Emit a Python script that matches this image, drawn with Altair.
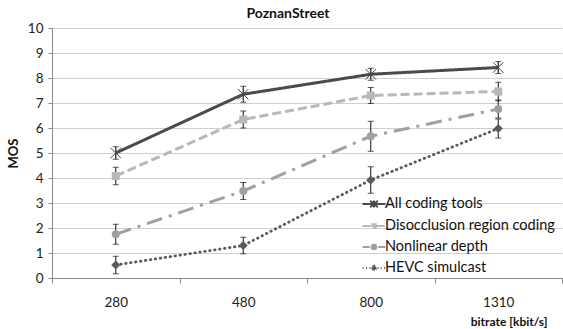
import altair as alt
import pandas as pd

# Bitrate points (kbit/s) on the horizontal axis
bitrates = ["280", "480", "800", "1310"]

series_names = [
    "All coding tools",
    "Disocclusion region coding",
    "Nonlinear depth",
    "HEVC simulcast",
]

# Mean opinion scores and their confidence half-widths
all_tools = [5.0, 7.35, 8.15, 8.42]
all_tools_ci = [0.25, 0.32, 0.24, 0.24]
disocclusion = [4.08, 6.34, 7.30, 7.46]
disocclusion_ci = [0.35, 0.34, 0.32, 0.37]
nonlinear = [1.75, 3.48, 5.67, 6.76]
nonlinear_ci = [0.40, 0.34, 0.60, 0.36]
hevc = [0.52, 1.30, 3.92, 5.98]
hevc_ci = [0.35, 0.33, 0.53, 0.38]

colors = ["#4a4a4a", "#b8b8b8", "#a0a0a0", "#5a5a5a"]

rows = []
for name, vals, cis in zip(
    series_names,
    [all_tools, disocclusion, nonlinear, hevc],
    [all_tools_ci, disocclusion_ci, nonlinear_ci, hevc_ci],
):
    for b, v, c in zip(bitrates, vals, cis):
        rows.append({"series": name, "bitrate": b, "MOS": v, "lo": v - c, "hi": v + c})
df = pd.DataFrame(rows)

FONT = "Lato"
color_scale = alt.Scale(domain=series_names, range=colors)

x_scale = alt.Scale(domain=bitrates, paddingInner=0, paddingOuter=0)
x_axis = alt.Axis(
    title="bitrate [kbit/s]",
    labelAngle=0,
    tickBand="extent",
    tickSize=5,
    labelPadding=12,
    labelFontSize=13.5,
    labelColor="#222",
    domainColor="#888",
    tickColor="#888",
    titleFontSize=12,
    titleFontWeight="bold",
    titleColor="#111",
    titleAlign="right",
    titleAnchor="end",
    titleX=495,
    titleY=47,
    titleBaseline="alphabetic",
)
y_scale = alt.Scale(domain=[0, 10], nice=False)
y_axis = alt.Axis(
    title="MOS",
    values=list(range(11)),
    tickSize=4,
    labelPadding=5,
    labelFontSize=13.5,
    labelColor="#222",
    domainColor="#888",
    tickColor="#888",
    gridColor="#cfcfcf",
    gridWidth=1.2,
    titleFontSize=13,
    titleFontWeight="bold",
    titleColor="#111",
    titleX=-32,
    titleY=125,
    titleAlign="center",
    titleBaseline="bottom",
)


def X():
    return alt.X("bitrate:N", sort=bitrates, scale=x_scale, axis=x_axis)


def Y(field="MOS"):
    return alt.Y(f"{field}:Q", scale=y_scale, axis=y_axis)


def C():
    return alt.Color("series:N", scale=color_scale)


base = alt.Chart(df)

# Solid / dashed / dash-dot lines
lines = base.transform_filter(
    alt.FieldOneOfPredicate(field="series", oneOf=series_names[:3])
).mark_line(strokeWidth=3).encode(
    x=X(),
    y=Y(),
    color=C(),
    strokeDash=alt.StrokeDash(
        "series:N",
        scale=alt.Scale(domain=series_names, range=[[1, 0], [9, 4], [16, 7, 3, 7], [1, 4]]),
        legend=None,
    ),
)

# Dotted line with round caps
dotted = base.transform_filter(
    alt.datum.series == series_names[3]
).mark_line(strokeWidth=2.8, strokeDash=[0.5, 4.5], strokeCap="round").encode(
    x=X(), y=Y(), color=C()
)

# Error bars with caps
err = base.mark_rule(color="#111", strokeWidth=1).encode(
    x=X(), y=Y("lo"), y2="hi:Q"
)
cap_lo = base.mark_tick(color="#111", thickness=1, size=6).encode(x=X(), y=Y("lo"))
cap_hi = base.mark_tick(color="#111", thickness=1, size=6).encode(x=X(), y=Y("hi"))

# Markers
star_path = "M-1,-1L1,1M-1,1L1,-1M0,-1L0,1"
star = base.transform_filter(alt.datum.series == series_names[0]).mark_point(
    shape=star_path, filled=False, size=110, strokeWidth=1, opacity=1
).encode(x=X(), y=Y(), color=C())

squares = base.transform_filter(alt.datum.series == series_names[1]).mark_point(
    shape="square", filled=True, size=64, opacity=1
).encode(x=X(), y=Y(), color=C())

circles = base.transform_filter(alt.datum.series == series_names[2]).mark_point(
    shape="circle", filled=True, size=64, opacity=1
).encode(x=X(), y=Y(), color=C())

diamonds = base.transform_filter(alt.datum.series == series_names[3]).mark_point(
    shape="diamond", filled=True, size=80, opacity=1
).encode(x=X(), y=Y(), color=C())

# Legend symbols: a short line with the series marker on it
circ = "M-0.32,0A0.32,0.32 0 1,0 0.32,0A0.32,0.32 0 1,0 -0.32,0"
legend_shapes = [
    "M-1.64,0H1.64M-0.55,-0.45L0.55,0.45M-0.55,0.45L0.55,-0.45M0,-0.5L0,0.5",
    "M-1.64,0H1.64M-0.25,-0.25H0.25V0.25H-0.25Z",
    "M-1.64,0H-0.6M0.6,0H1.64" + circ,
    "M-1.64,0H-1.44M-1.14,0H-0.94M-0.64,0H-0.5M0.5,0H0.64M0.94,0H1.14M1.44,0H1.64"
    "M0,-0.42L0.42,0L0,0.42L-0.42,0Z",
]
legend_props = dict(
    orient="none",
    legendX=314,
    legendY=168,
    symbolSize=196,
    symbolStrokeWidth=2,
    labelOffset=3,
    labelFontSize=14.5,
    labelFont=FONT,
    labelColor="#111",
    labelLimit=0,
    rowPadding=6,
    padding=0,
    title=None,
)
legend_layer = base.transform_filter("false").mark_point(
    filled=False, opacity=1, strokeWidth=2
).encode(
    x=X(),
    y=Y(),
    color=alt.Color("series:N", scale=color_scale, legend=alt.Legend(**legend_props)),
    shape=alt.Shape(
        "series:N",
        scale=alt.Scale(domain=series_names, range=legend_shapes),
        legend=alt.Legend(**legend_props),
    ),
)

chart = alt.layer(
    lines, dotted, err, cap_lo, cap_hi, star, squares, circles, diamonds, legend_layer
).properties(
    width=510,
    height=250,
    padding={"left": 52, "top": 28, "right": 1, "bottom": 51},
    autosize=alt.AutoSizeParams(type="none"),
    background="white",
    title=alt.Title(
        "PoznanStreet", fontSize=14, font=FONT, fontWeight="bold", color="#111",
        anchor="middle", dx=-19, offset=0,
    ),
).configure_view(stroke=None).configure_axis(
    labelFont=FONT, titleFont=FONT
).configure_legend(
    labelFont=FONT
)

chart.save("out.html", embed_options={"renderer": "svg", "actions": False})
